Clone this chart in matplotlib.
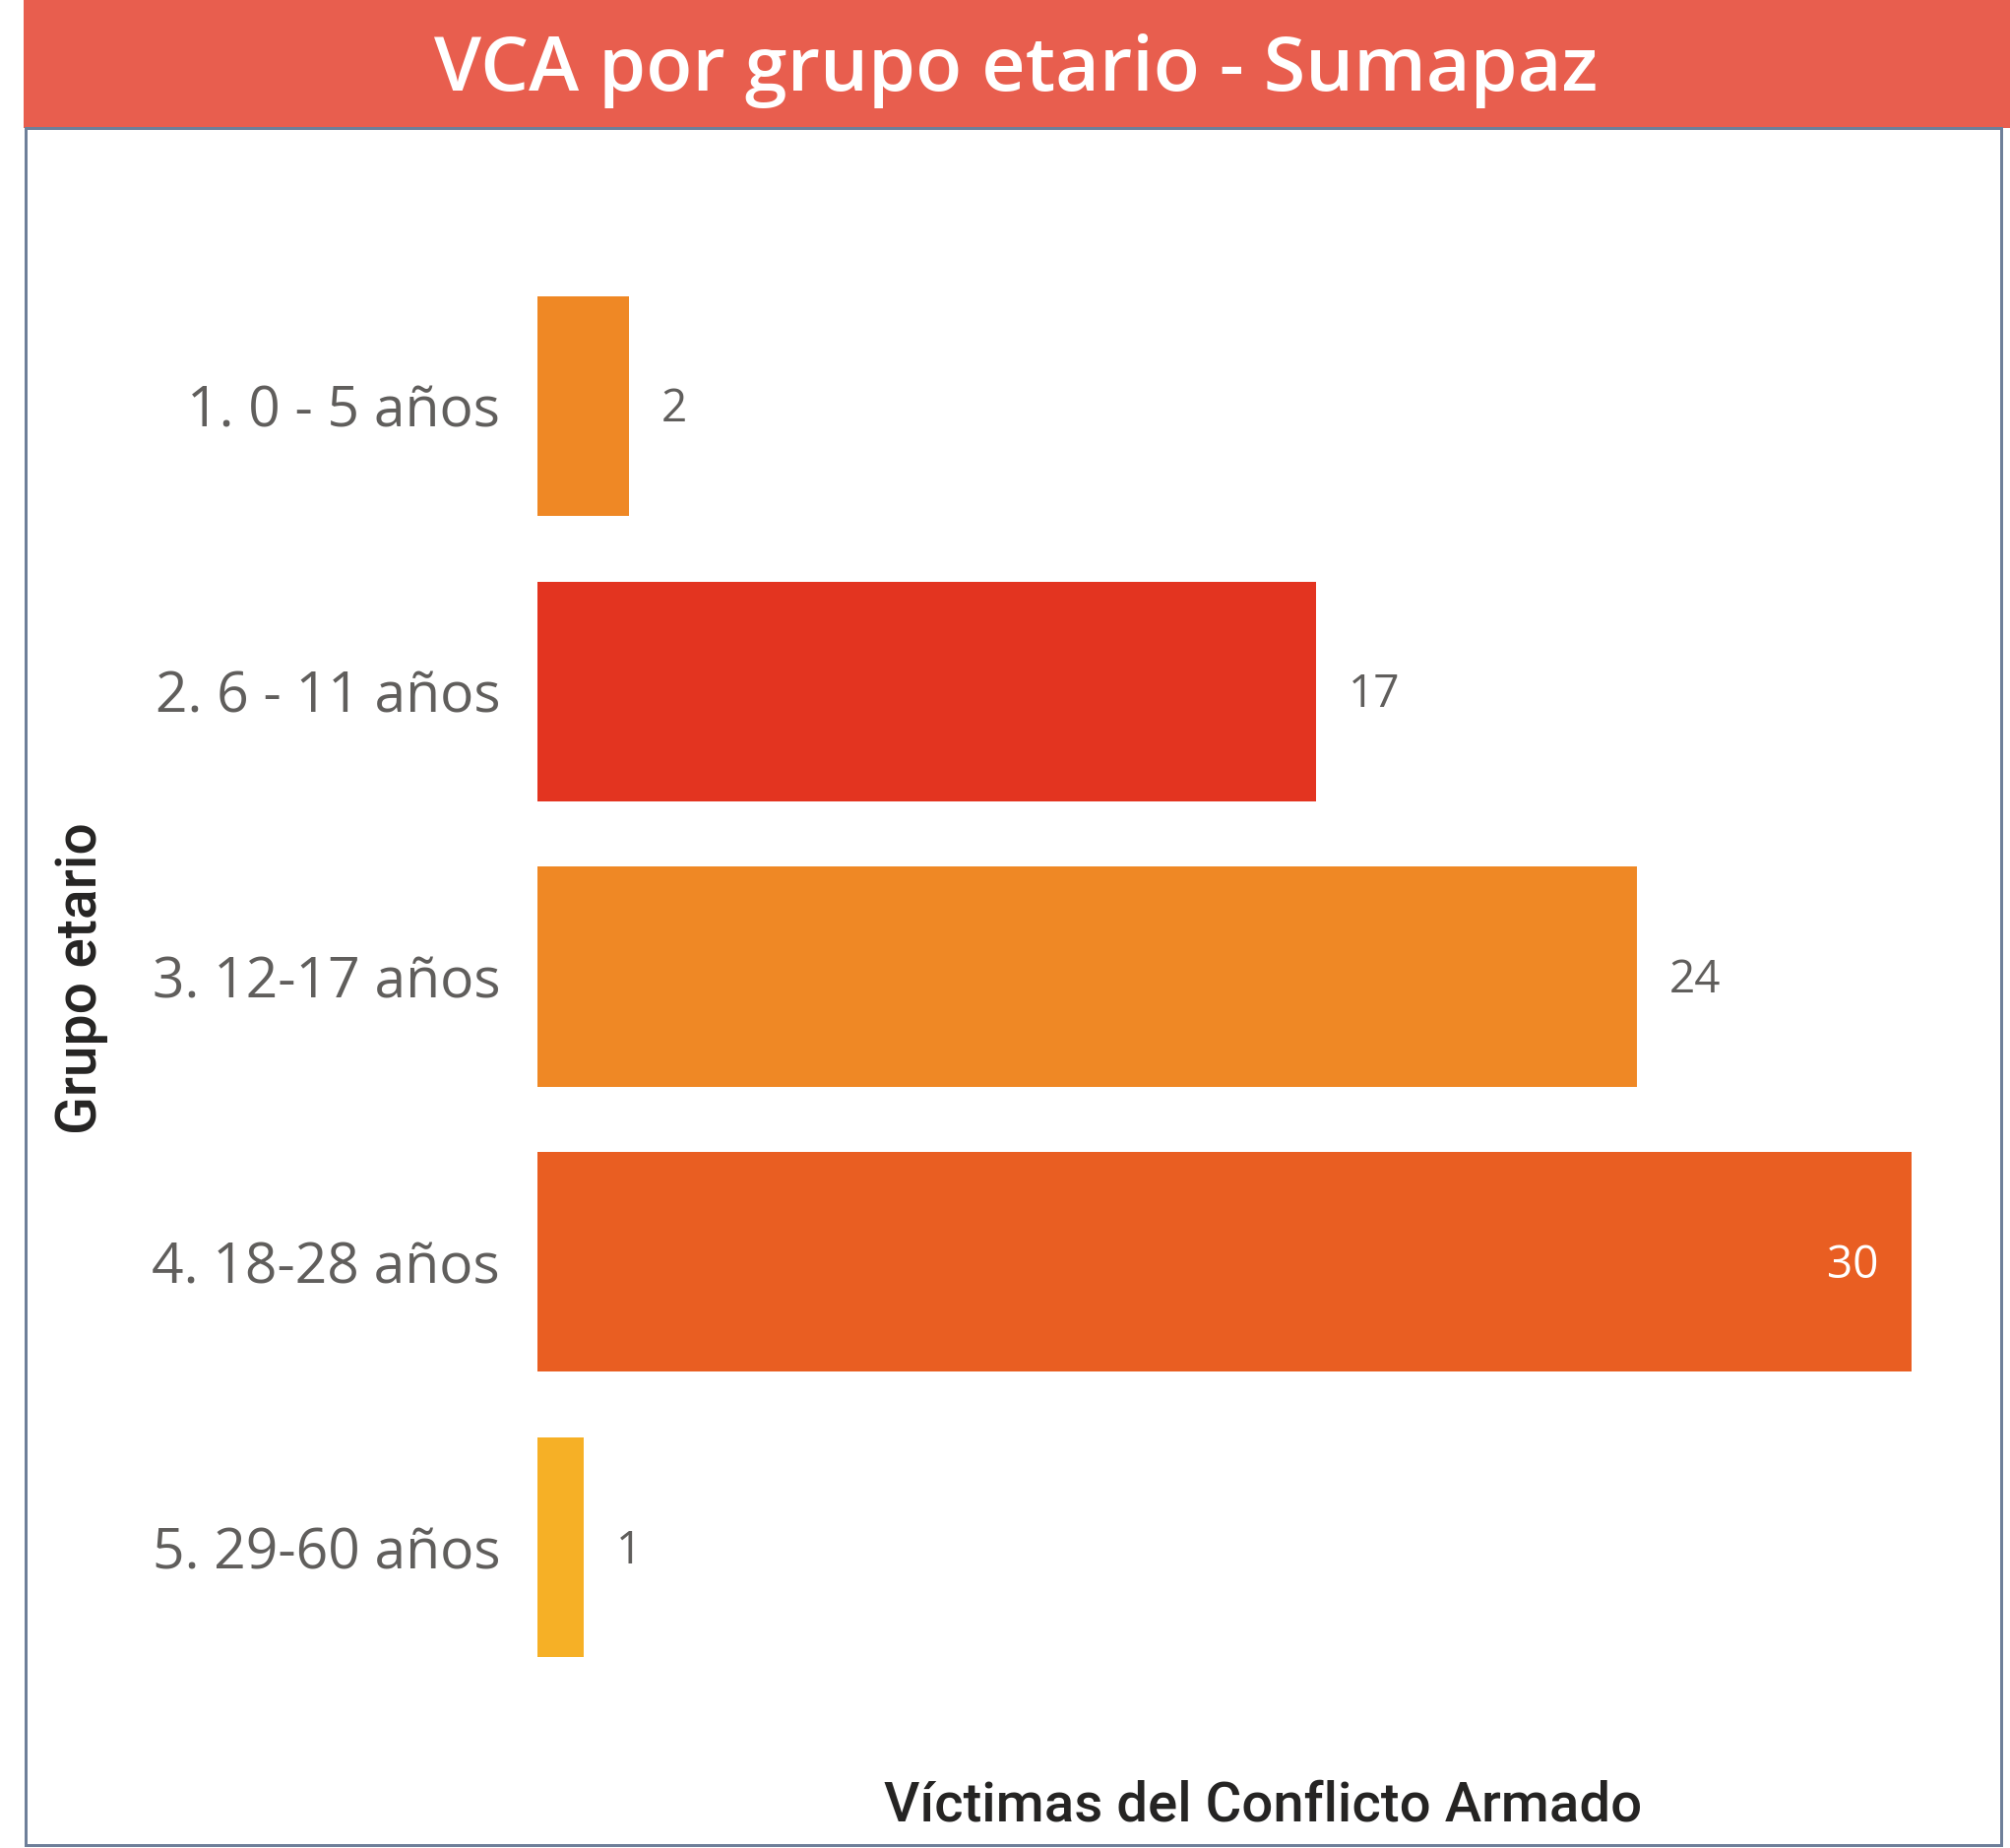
import matplotlib
matplotlib.use("Agg")
import matplotlib.pyplot as plt
from matplotlib.patches import Rectangle

categories = ["1. 0 - 5 años", "2. 6 - 11 años", "3. 12-17 años", "4. 18-28 años", "5. 29-60 años"]
values = [2, 17, 24, 30, 1]
bar_colors = ["#EF8825", "#E33420", "#EF8825", "#E95E22", "#F6B026"]
title = "VCA por grupo etario - Sumapaz"
x_title = "Víctimas del Conflicto Armado"
y_title = "Grupo etario"

W, H = 2042, 1877
DPI = 100
PT = 72 / DPI
fig = plt.figure(figsize=(W / DPI, H / DPI), dpi=DPI)
fig.patch.set_facecolor("white")

def fx(px):
    return px / W

def fy(py):
    return 1 - py / H

# title banner
fig.patches.append(Rectangle((fx(24), fy(130)), fx(2042) - fx(24), 130 / H,
                             transform=fig.transFigure, facecolor="#E85E4E",
                             edgecolor="none", zorder=0))
fig.text(fx(1032), fy(92), title, color="white", fontsize=55.5, fontweight="semibold",
         family=["Open Sans", "DejaVu Sans"], ha="center", va="baseline")

# card border
fig.patches.append(Rectangle((fx(25.5), fy(1874)), fx(2033) - fx(25.5), (1874 - 130) / H,
                             transform=fig.transFigure, facecolor="none",
                             edgecolor="#6E7F99", linewidth=3 * PT, zorder=1))

# plot axes
top_px, bot_px = 267.6, 1716.4
left_px, right_px = 546, 1942
ax = fig.add_axes([fx(left_px), fy(bot_px), (right_px - left_px) / W, (bot_px - top_px) / H])
ax.set_facecolor("none")
ypos = list(range(len(categories)))
ax.barh(ypos, values, height=0.77, color=bar_colors, zorder=2)
ax.set_xlim(0, 30)
ax.set_ylim(len(categories) - 0.5, -0.5)
ax.set_yticks(ypos)
ax.set_yticklabels(categories, family=["Open Sans", "DejaVu Sans"], fontsize=41, color="#605E5C")
ax.tick_params(axis="y", length=0, pad=38 * PT)
ax.set_xticks([])
for s in ax.spines.values():
    s.set_visible(False)

for y, v in zip(ypos, values):
    if v >= 29:
        ax.annotate(str(v), (v, y), xytext=(-33 * PT, -4 * PT), textcoords="offset points",
                    ha="right", va="center", color="white", fontsize=33,
                    family=["Open Sans", "DejaVu Sans"])
    else:
        ax.annotate(str(v), (v, y), xytext=(33 * PT, -4 * PT), textcoords="offset points",
                    ha="left", va="center", color="#605E5C", fontsize=33,
                    family=["Open Sans", "DejaVu Sans"])

fig.text(fx(1283), fy(1850), x_title, color="#252423", fontsize=40.5, fontweight="medium",
         family=["Roboto", "DejaVu Sans"], ha="center", va="baseline")
fig.text(fx(83), fy(994), y_title, color="#252423", fontsize=41, fontweight="medium",
         family=["Roboto", "DejaVu Sans"], ha="center", va="center", rotation=90)

fig.savefig("out.png", dpi=DPI)
